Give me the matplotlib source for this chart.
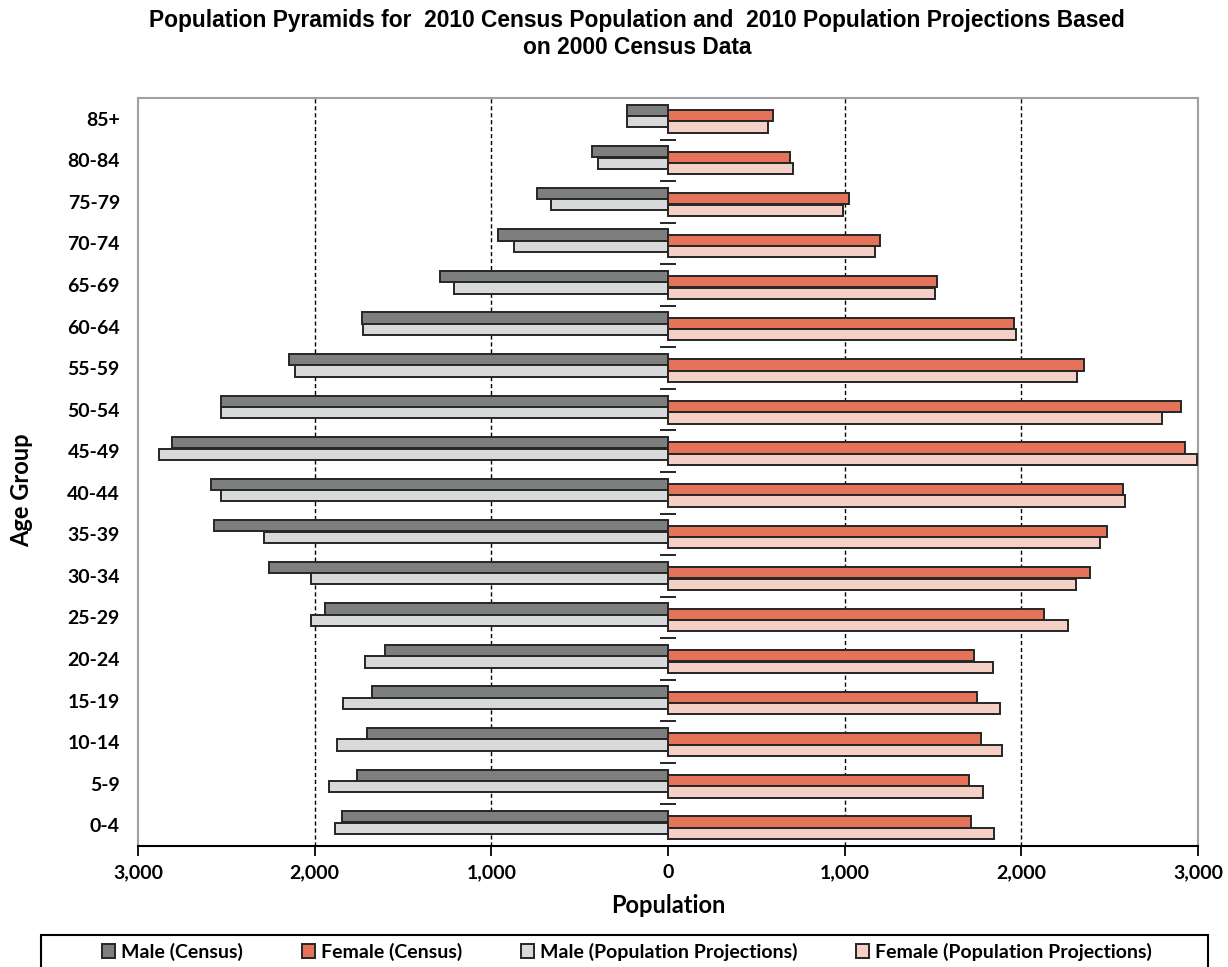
import numpy as np
import matplotlib
matplotlib.use("Agg")
import matplotlib.pyplot as plt
from matplotlib.patches import Rectangle
from matplotlib.ticker import FuncFormatter, FixedLocator

# ---------------- data ----------------
age_groups = ['0-4', '5-9', '10-14', '15-19', '20-24', '25-29', '30-34', '35-39',
              '40-44', '45-49', '50-54', '55-59', '60-64', '65-69', '70-74',
              '75-79', '80-84', '85+']
male_census = [1846, 1758, 1701, 1677, 1604, 1941, 2257, 2572, 2588, 2806,
               2531, 2143, 1734, 1291, 960, 742, 428, 233]
male_proj = [1885, 1919, 1871, 1838, 1717, 2022, 2022, 2289, 2531, 2879,
             2531, 2113, 1725, 1211, 871, 662, 396, 233]
female_census = [1715, 1701, 1773, 1749, 1733, 2128, 2388, 2484, 2573, 2926,
                 2903, 2355, 1960, 1523, 1199, 1022, 691, 594]
female_proj = [1846, 1783, 1888, 1878, 1838, 2265, 2307, 2444, 2589, 2994,
               2799, 2313, 1967, 1509, 1169, 991, 707, 564]
series_labels = ['Male (Census)', 'Female (Census)',
                 'Male (Population Projections)', 'Female (Population Projections)']
x_ticks = [-3000, -2000, -1000, 0, 1000, 2000, 3000]

# ---------------- fonts ----------------
plt.rcParams['font.family'] = ['Lato', 'DejaVu Sans']

# ---------------- colors ----------------
c_male_census = '#7d7f7f'
c_male_proj = '#d8d9db'
c_fem_census = '#e5735a'
c_fem_proj = '#f5d0c7'
edge = '#262626'

fig = plt.figure(figsize=(12.28, 9.67), dpi=100)
ax = fig.add_axes([138/1228, 1-846/967, (1198-138)/1228, (846-98)/967])

y = np.arange(len(age_groups))
h = 0.27
mc = -np.array(male_census)
mp = -np.array(male_proj)
fc = np.array(female_census)
fp = np.array(female_proj)

b1 = ax.barh(y + 0.205, mc, height=h, color=c_male_census, edgecolor=edge, linewidth=1.4, zorder=3)
b3 = ax.barh(y - 0.07, mp, height=h, color=c_male_proj, edgecolor=edge, linewidth=1.4, zorder=3)
b2 = ax.barh(y + 0.075, fc, height=h, color=c_fem_census, edgecolor=edge, linewidth=1.4, zorder=3)
b4 = ax.barh(y - 0.2, fp, height=h, color=c_fem_proj, edgecolor=edge, linewidth=1.4, zorder=3)

ax.set_xlim(-3000, 3000)
ax.set_ylim(-0.5, len(age_groups) - 0.5)

ax.xaxis.set_major_locator(FixedLocator(x_ticks))
ax.xaxis.set_major_formatter(FuncFormatter(lambda v, p: f"{abs(int(v)):,}"))
ax.set_yticks(y)
ax.set_yticklabels(age_groups)

for lab in ax.get_xticklabels() + ax.get_yticklabels():
    lab.set_fontweight('bold')
    lab.set_fontsize(14)
ax.tick_params(axis='x', direction='out', length=7, width=1.3, color='black', pad=6)
ax.tick_params(axis='y', length=0, pad=13)

ax.grid(axis='x', color='black', linestyle=(0, (3, 2)), linewidth=1.0, zorder=0)
gl = ax.xaxis.get_gridlines()
gl[0].set_visible(False)
gl[-1].set_visible(False)
gl[3].set_visible(False)

for s in ['top', 'right', 'left']:
    ax.spines[s].set_color('#a0a0a0')
    ax.spines[s].set_linewidth(1.5)
ax.spines['bottom'].set_color('black')
ax.spines['bottom'].set_linewidth(1.5)

# center axis with category boundary ticks
sec = ax.secondary_yaxis(0.5)
sec.set_yticks(np.arange(-0.5, len(age_groups) + 0.5, 1.0))
sec.tick_params(axis='y', direction='inout', length=12, width=1.2, color='black', labelright=False, labelleft=False)
sec.spines['left'].set_color('black')
sec.spines['left'].set_linewidth(1.5)
sec.spines['right'].set_visible(False)

ax.set_xlabel('Population', fontsize=17, fontweight='bold', labelpad=9)
fig.text(22/1228, 1-490/967, 'Age Group', rotation=90, fontsize=17, fontweight='bold',
         ha='center', va='center')

fig.text(637/1228, 1-34/967,
         'Population Pyramids for  2010 Census Population and  2010 Population Projections Based\non 2000 Census Data',
         ha='center', va='center', fontsize=16.4, fontweight='bold',
         family=['Liberation Sans', 'DejaVu Sans'], linespacing=1.2)

# legend frame (cut off by figure bottom, as in the reference)
fig.patches.append(Rectangle((41/1228, -0.05), (1208-41)/1228, 0.05 + (1-935/967),
                             transform=fig.transFigure, fill=False, edgecolor='black',
                             linewidth=1.5, clip_on=False))
leg = fig.legend([b1, b2, b3, b4], series_labels, loc='center', ncol=4,
                 bbox_to_anchor=(627/1228, 1-952/967), frameon=False,
                 prop={'weight': 'bold', 'size': 14}, handlelength=0.7, handleheight=0.7,
                 handletextpad=0.3, columnspacing=3.0)

fig.savefig('out.png', dpi=100)
